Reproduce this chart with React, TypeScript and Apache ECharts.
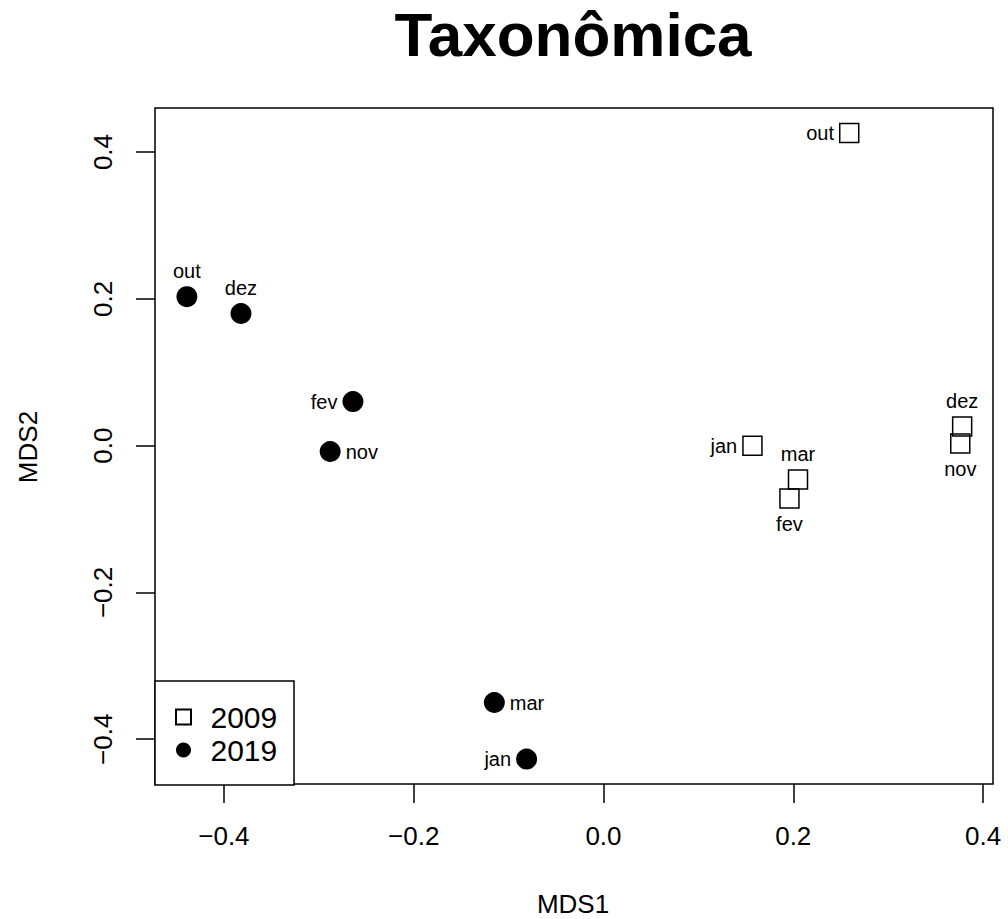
import React, { useEffect, useRef } from "react";
import * as echarts from "echarts";

const FONT = "'Liberation Sans', Arial, Helvetica, sans-serif";

const months2009 = ["out", "nov", "dez", "jan", "fev", "mar"];
const x2009 = [0.259, 0.376, 0.378, 0.157, 0.196, 0.205];
const y2009 = [0.426, 0.003, 0.026, 0.0, -0.072, -0.046];
const labelPos2009 = ["left", "bottom", "top", "left", "bottom", "top"];

const months2019 = ["out", "nov", "dez", "jan", "fev", "mar"];
const x2019 = [-0.439, -0.288, -0.382, -0.081, -0.264, -0.115];
const y2019 = [0.203, -0.008, 0.18, -0.427, 0.06, -0.35];
const labelPos2019 = ["top", "right", "top", "left", "left", "right"];

const seriesNames = ["2009", "2019"];
const tickValues = [-0.4, -0.2, 0, 0.2, 0.4];

const X_MIN = -0.4726;
const X_MAX = 0.4105;
const Y_MIN = -0.461;
const Y_MAX = 0.46;

const fmt = (v: number) => (v < -1e-9 ? "\u2212" : "") + Math.abs(v).toFixed(1);

export default function App() {
  const ref = useRef<HTMLDivElement>(null);
  useEffect(() => {
    document.body.style.margin = "0";
    if (!ref.current) return;
    const chart = echarts.init(ref.current, null, { renderer: "svg" });
    const axisCommon = {
      type: "value",
      splitLine: { show: false },
      axisLine: { show: false, onZero: false },
      axisTick: {
        show: true,
        length: 19,
        lineStyle: { color: "#000", width: 1.5 },
        customValues: tickValues,
      },
    };
    const pointLabel = {
      show: true,
      formatter: "{b}",
      fontSize: 20,
      color: "#000",
      distance: 5,
      fontFamily: FONT,
    };
    const option: any = {
      animation: false,
      textStyle: { fontFamily: FONT },
      grid: {
        left: 155,
        right: 15,
        top: 108,
        bottom: 135,
        show: true,
        borderColor: "#000",
        borderWidth: 1.5,
        backgroundColor: "transparent",
      },
      xAxis: {
        ...axisCommon,
        min: X_MIN,
        max: X_MAX,
        axisLabel: {
          customValues: tickValues,
          formatter: fmt,
          fontSize: 26,
          color: "#000",
          margin: 39,
          fontFamily: FONT,
        },
      },
      yAxis: {
        ...axisCommon,
        min: Y_MIN,
        max: Y_MAX,
        axisLabel: {
          customValues: tickValues,
          formatter: fmt,
          fontSize: 26,
          color: "#000",
          margin: 39,
          rotate: 90,
          fontFamily: FONT,
        },
      },
      legend: {
        orient: "vertical",
        left: 170,
        top: 697,
        itemWidth: 44,
        itemHeight: 15,
        itemGap: 3,
        symbolKeepAspect: true,
        z: 10,
        textStyle: { fontSize: 30, color: "#000", fontFamily: FONT },
        data: [
          { name: seriesNames[0], icon: "path://M0,0L10,0L10,10L0,10Z" },
          { name: seriesNames[1], icon: "circle" },
        ],
      },
      graphic: [
        {
          type: "rect",
          z: 3,
          shape: { x: 155, y: 681, width: 139, height: 104 },
          style: { fill: "#fff", stroke: "#000", lineWidth: 1.5 },
        },
        {
          type: "text",
          x: 573,
          y: 34,
          style: {
            text: "Taxonômica",
            fontSize: 62,
            fontWeight: "bold",
            fontFamily: FONT,
            fill: "#000",
            textAlign: "center",
            textVerticalAlign: "middle",
          },
        },
        {
          type: "text",
          x: 573,
          y: 917,
          style: {
            text: "MDS1",
            fontSize: 26,
            fontFamily: FONT,
            fill: "#000",
            textAlign: "center",
            textVerticalAlign: "bottom",
          },
        },
        {
          type: "text",
          x: 28,
          y: 447,
          rotation: Math.PI / 2,
          style: {
            text: "MDS2",
            fontSize: 26,
            fontFamily: FONT,
            fill: "#000",
            textAlign: "center",
            textVerticalAlign: "middle",
          },
        },
      ],
      series: [
        {
          name: seriesNames[0],
          type: "scatter",
          symbol: "rect",
          symbolSize: 19,
          itemStyle: { color: "transparent", borderColor: "#000", borderWidth: 1.5, opacity: 1 },
          label: pointLabel,
          data: months2009.map((m, i) => ({
            name: m,
            value: [x2009[i], y2009[i]],
            label: { position: labelPos2009[i] },
          })),
        },
        {
          name: seriesNames[1],
          type: "scatter",
          symbol: "circle",
          symbolSize: 21,
          itemStyle: { color: "#000", opacity: 1 },
          label: pointLabel,
          data: months2019.map((m, i) => ({
            name: m,
            value: [x2019[i], y2019[i]],
            label: { position: labelPos2019[i] },
          })),
        },
      ],
    };
    chart.setOption(option);
    return () => chart.dispose();
  }, []);
  return <div ref={ref} style={{ width: 1008, height: 919 }} />;
}
